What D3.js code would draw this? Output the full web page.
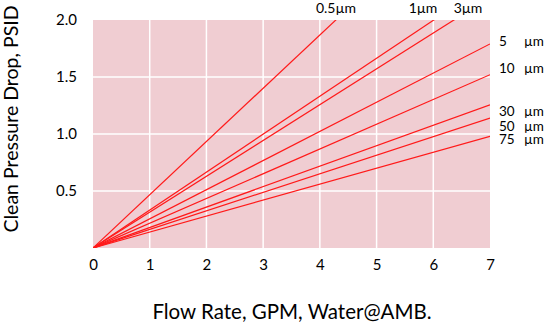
<!DOCTYPE html>
<html>
<head>
<meta charset="utf-8">
<script src="https://cdn.jsdelivr.net/npm/d3@7"></script>
<style>
  body { margin: 0; background: #fff; }
  svg { display: block; font-family: Lato, "Open Sans", sans-serif; }
</style>
</head>
<body>
<svg id="chart" width="547" height="322"></svg>
<script>
// Daten: Druckverlust bei 7 GPM je Filterfeinheit (linear ab Ursprung)
const grades = ['0.5', '1', '3', '5', '10', '30', '50', '75'];
const psidAt7 = [3.27, 2.33, 2.20, 1.79, 1.52, 1.255, 1.14, 0.98];
const xTicks = [0, 1, 2, 3, 4, 5, 6, 7];
const yTicks = [0.5, 1.0, 1.5, 2.0];

const margin = { left: 93, right: 57, top: 20, bottom: 74 };
const W = 547, H = 322;

const svg = d3.select('#chart');
const x = d3.scaleLinear().domain([0, 7]).range([margin.left, W - margin.right]);
const y = d3.scaleLinear().domain([0, 2]).range([H - margin.bottom, margin.top]);

// Hintergrund
svg.append('rect')
  .attr('x', x(0)).attr('y', y(2))
  .attr('width', x(7) - x(0)).attr('height', y(0) - y(2))
  .attr('fill', '#f0cdd2');

// Gitternetz
svg.append('g').selectAll('line').data(xTicks.slice(1, -1)).enter().append('line')
  .attr('x1', d => x(d)).attr('x2', d => x(d))
  .attr('y1', y(0)).attr('y2', y(2))
  .attr('stroke', '#fff').attr('stroke-width', 1.5);
svg.append('g').selectAll('line').data(yTicks.slice(0, -1)).enter().append('line')
  .attr('x1', x(0)).attr('x2', x(7))
  .attr('y1', d => y(d)).attr('y2', d => y(d))
  .attr('stroke', '#fff').attr('stroke-width', 1.5);

svg.append('clipPath').attr('id', 'plot-clip')
  .append('rect')
  .attr('x', x(0)).attr('y', y(2))
  .attr('width', x(7) - x(0)).attr('height', y(0) - y(2));

// Kennlinien
const line = d3.line().x(d => x(d[0])).y(d => y(d[1]));
svg.append('g').attr('clip-path', 'url(#plot-clip)')
  .selectAll('path').data(psidAt7).enter().append('path')
  .attr('d', v => line([[0, 0], [7, v]]))
  .attr('fill', 'none')
  .attr('stroke', '#ff1a1a')
  .attr('stroke-width', 1.2);

// Beschriftung oben (Linien, die 2.0 PSID vor 7 GPM erreichen)
const topLabelX = [336, 423, 468];
grades.filter((g, i) => psidAt7[i] > 2).forEach((g, j) => {
  svg.append('text')
    .attr('x', topLabelX[j]).attr('y', 13)
    .attr('text-anchor', 'middle')
    .attr('font-size', 14)
    .attr('fill', '#000')
    .text(g + 'µm');
});

// Beschriftung rechts
const rightLabelY = [41.7, 68, 111, 126, 139];
grades.filter((g, i) => psidAt7[i] <= 2).forEach((g, j) => {
  svg.append('text')
    .attr('x', 499).attr('y', rightLabelY[j] + 4.5)
    .attr('font-size', 13.5)
    .attr('fill', '#000')
    .text(g);
  svg.append('text')
    .attr('x', 524).attr('y', rightLabelY[j] + 4.5)
    .attr('font-size', 13.5)
    .attr('fill', '#000')
    .text('µm');
});

// Achsen
const xAxis = svg.append('g')
  .attr('transform', `translate(0,${y(0)})`)
  .call(d3.axisBottom(x).tickValues(xTicks).tickSize(0).tickPadding(11).tickFormat(d3.format('d')));
xAxis.select('.domain').remove();
xAxis.selectAll('text').attr('font-size', 15).attr('fill', '#000').attr('font-family', 'Lato, sans-serif');

const yAxis = svg.append('g')
  .attr('transform', `translate(${x(0)},0)`)
  .call(d3.axisLeft(y).tickValues(yTicks).tickSize(0).tickPadding(16).tickFormat(d3.format('.1f')));
yAxis.select('.domain').remove();
yAxis.selectAll('text').attr('font-size', 15).attr('fill', '#000').attr('font-family', 'Lato, sans-serif');

// Achsentitel
svg.append('text')
  .attr('x', 292).attr('y', 319)
  .attr('text-anchor', 'middle')
  .attr('font-size', 20.5)
  .text('Flow Rate, GPM, Water@AMB.');
svg.append('text')
  .attr('transform', 'translate(18,119) rotate(-90)')
  .attr('text-anchor', 'middle')
  .attr('font-size', 19.5)
  .text('Clean Pressure Drop, PSID');
</script>
</body>
</html>
